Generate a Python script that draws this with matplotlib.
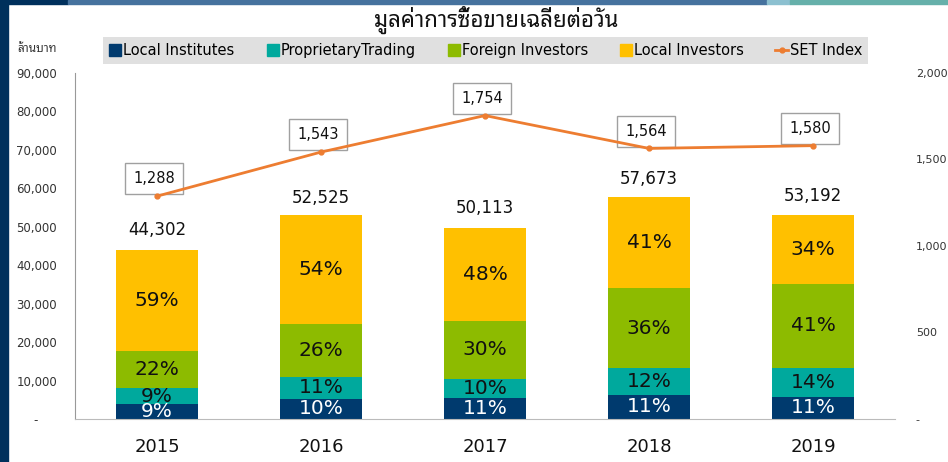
import numpy as np
import matplotlib
matplotlib.use('Agg')
import matplotlib.pyplot as plt
from matplotlib.patches import Rectangle
from matplotlib.lines import Line2D

# Datos del gráfico
years = ['2015', '2016', '2017', '2018', '2019']
totals = [44302, 52525, 50113, 57673, 53192]
local_institutes = [9, 10, 11, 11, 11]
prop_trading = [9, 11, 10, 12, 14]
foreign_investors = [22, 26, 30, 36, 41]
local_investors = [59, 54, 48, 41, 34]
set_index = [1288, 1543, 1754, 1564, 1580]

series_names = ['Local Institutes', 'ProprietaryTrading',
                'Foreign Investors', 'Local Investors']
series_colors = ['#003A6E', '#00A99D', '#8DBB00', '#FFC000']
line_color = '#ED7D31'

thai = ['Noto Sans Thai Looped', 'DejaVu Sans']

W, H = 948, 462
fig = plt.figure(figsize=(W / 100, H / 100), dpi=100)

# Bordes decorativos
fig.patches.append(Rectangle((0, 0), 8 / W, 1, transform=fig.transFigure,
                             color='#00305C', zorder=0))
for x0, x1, c in [(0, 68, '#00305C'), (68, 767, '#46729E'),
                  (767, 790, '#8CC0D0'), (790, 948, '#66B0AA')]:
    fig.patches.append(Rectangle((x0 / W, 1 - 4 / H), (x1 - x0) / W, 4 / H,
                                 transform=fig.transFigure, color=c, zorder=0))

# Ejes
ax = fig.add_axes([75 / W, 43 / H, 820 / W, 346 / H])
ax2 = ax.twinx()

x = np.arange(len(years))
shares = [local_institutes, prop_trading, foreign_investors, local_investors]
bottom = np.zeros(len(years))
for name, share, color in zip(series_names, shares, series_colors):
    vals = np.array(totals) * np.array(share) / 100.0
    ax.bar(x, vals, 0.5, bottom=bottom, color=color, label=name, zorder=2)
    for i in range(len(years)):
        txt_color = 'white' if color == '#003A6E' else '#111111'
        ax.text(x[i], bottom[i] + vals[i] / 2, '{}%'.format(share[i]),
                ha='center', va='center', fontsize=14.5, color=txt_color,
                zorder=3)
    bottom = bottom + vals

# Totales encima de las barras
for i in range(len(years)):
    ax.annotate('{:,}'.format(totals[i]), (x[i], totals[i]),
                xytext=(0, 7), textcoords='offset points',
                ha='center', va='bottom', fontsize=12, color='#111111')

# Línea del SET Index
ax2.plot(x, set_index, color=line_color, lw=2, marker='o', ms=3.5,
         zorder=4)
for i in range(len(years)):
    ax2.annotate('{:,}'.format(set_index[i]), (x[i], set_index[i]),
                 xytext=(-2, 7), textcoords='offset points',
                 ha='center', va='bottom', fontsize=10.5, color='#111111',
                 bbox=dict(boxstyle='square,pad=0.55', fc='white',
                           ec='#A0A0A0', lw=1))

ax.set_xlim(-0.5, 4.5)
ax.set_ylim(0, 90000)
ax2.set_ylim(0, 2000)
ax.set_zorder(ax2.get_zorder() - 1)
ax.patch.set_visible(False)

ax.set_xticks(x)
ax.set_xticklabels(years, fontsize=13, color='#111111')
ax.tick_params(axis='x', length=0, pad=14)

yt = np.arange(0, 90001, 10000)
ax.set_yticks(yt)
ax.set_yticklabels(['-     '] + ['{:,}'.format(v) for v in yt[1:]],
                   fontsize=8.5, color='#333333')
ax.tick_params(axis='y', length=0, pad=13)

yt2 = np.arange(0, 2001, 500)
ax2.set_yticks(yt2)
ax2.set_yticklabels(['-'] + ['{:,}'.format(v) for v in yt2[1:]],
                    fontsize=8, color='#333333')
ax2.tick_params(axis='y', length=0, pad=15)

for a in (ax, ax2):
    for s in ('top', 'right'):
        a.spines[s].set_visible(False)
ax2.spines['left'].set_visible(False)
ax2.spines['bottom'].set_visible(False)
ax.spines['left'].set_color('#999999')
ax.spines['bottom'].set_color('#BBBBBB')

# Título y unidad
fig.text(496 / W, 1 - 20 / H, 'มูลค่าการซื้อขายเฉลี่ยต่อวัน',
         ha='center', va='center', fontsize=16, fontweight='bold',
         family=thai, color='#111111')
fig.text(17 / W, 1 - 48 / H, 'ล้านบาท', ha='left', va='center',
         fontsize=8.5, family=thai, color='#333333')

# Leyenda
handles = [Line2D([], [], marker='s', ls='none', color=c, ms=9)
           for c in series_colors]
handles.append(Line2D([], [], color=line_color, lw=2, marker='o', ms=3.5))
leg = fig.legend(handles, series_names + ['SET Index'], ncol=5,
                 loc='lower left', mode='expand',
                 bbox_to_anchor=(103 / W, 1 - 64 / H, 765 / W, 27 / H),
                 borderaxespad=0, frameon=True, fancybox=False,
                 fontsize=10.5, handlelength=0.9, handletextpad=0.1,
                 columnspacing=1.0, borderpad=0.4)
leg.get_frame().set_facecolor('#D9D9D9')
leg.get_frame().set_edgecolor('none')

fig.savefig('out.png', dpi=100)
